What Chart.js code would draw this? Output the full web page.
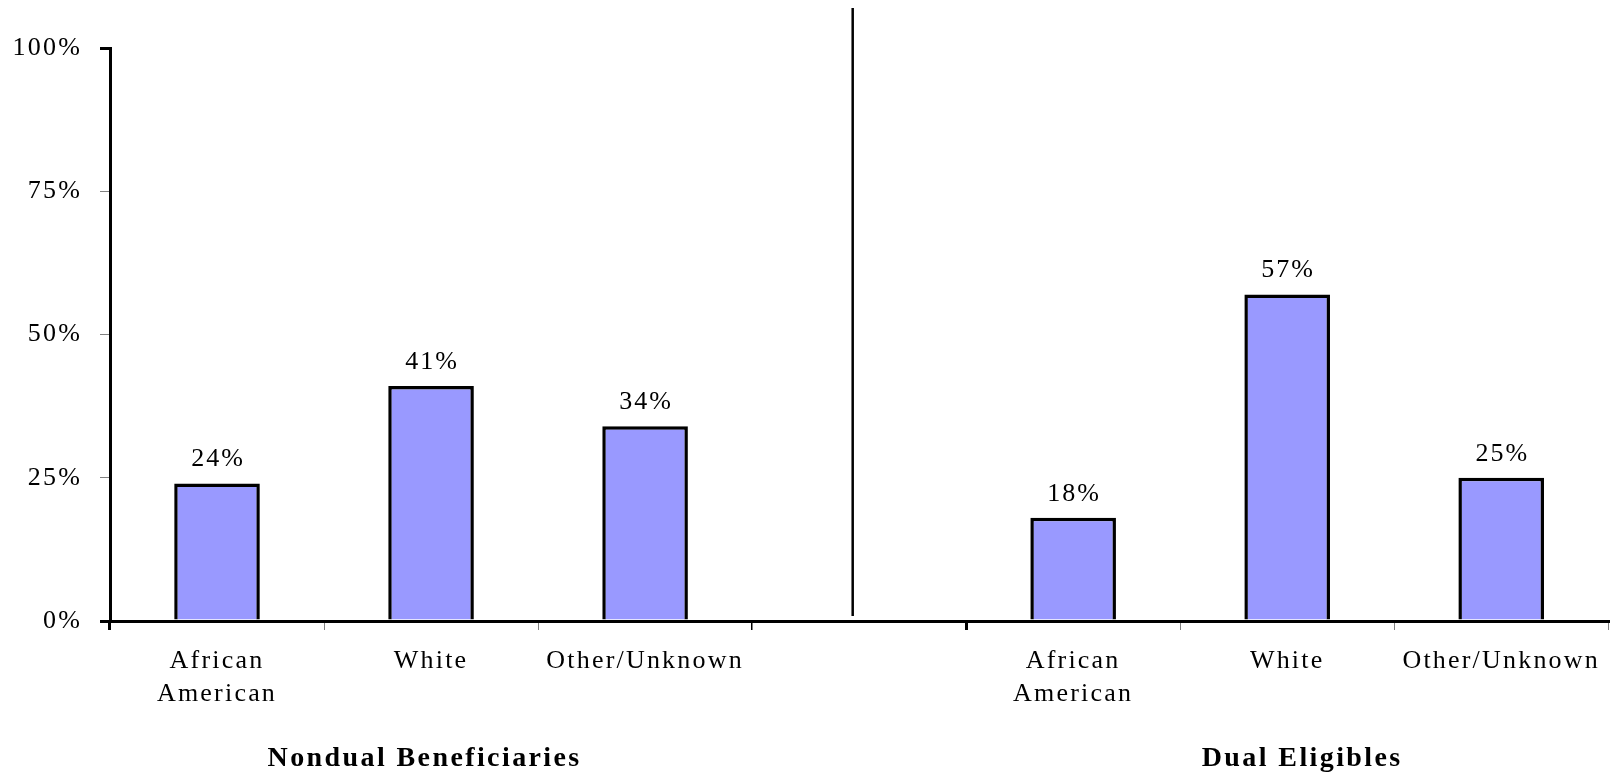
<!DOCTYPE html>
<html><head><meta charset="utf-8">
<script src="https://cdn.jsdelivr.net/npm/chart.js@4/dist/chart.umd.min.js"></script>
<style>html,body{margin:0;padding:0;background:#fff}canvas{display:block}</style>
</head><body>
<canvas id="c" width="1615" height="773"></canvas>
<script>
const categories = [['African','American'], 'White', 'Other/Unknown', '', ['African','American'], 'White', 'Other/Unknown'];
const values = [24, 41, 34, null, 18, 57, 25];
const yTicks = [0, 25, 50, 75, 100];
const groupTitles = ['Nondual Beneficiaries', 'Dual Eligibles'];
const groupCenters = [0.97, 5.07];
const dividerAt = 2.97;
const dividerTop = 107;
const FONT = "'Liberation Serif','Times New Roman',serif";
const BAR = '#9999FF';

const spacingPlugin = {
  id: 'spacing',
  beforeUpdate(chart) { chart.ctx.letterSpacing = '2.2px'; },
  beforeDraw(chart) { chart.ctx.letterSpacing = '2.2px'; }
};

const valueLabels = {
  id: 'valueLabels',
  afterDatasetsDraw(chart) {
    const ctx = chart.ctx;
    const meta = chart.getDatasetMeta(0);
    ctx.save();
    ctx.font = '26px ' + FONT;
    ctx.letterSpacing = '2px';
    ctx.fillStyle = '#000';
    ctx.textAlign = 'center';
    ctx.textBaseline = 'alphabetic';
    meta.data.forEach((bar, i) => {
      const v = values[i];
      if (v === null || v === undefined) return;
      ctx.fillText(v + '%', bar.x + 1, bar.y - 17);
    });
    ctx.restore();
  }
};

const decor = {
  id: 'decor',
  afterDraw(chart) {
    const ctx = chart.ctx;
    const xs = chart.scales.x, ys = chart.scales.y;
    ctx.save();
    ctx.strokeStyle = '#000';
    ctx.lineWidth = 2.5;
    const dx = xs.getPixelForValue(dividerAt);
    ctx.beginPath();
    ctx.moveTo(dx, ys.getPixelForValue(dividerTop));
    ctx.lineTo(dx, ys.getPixelForValue(0) - 5);
    ctx.stroke();
    ctx.font = 'bold 28px ' + FONT;
    ctx.letterSpacing = '2.4px';
    ctx.fillStyle = '#000';
    ctx.textAlign = 'center';
    ctx.textBaseline = 'alphabetic';
    groupTitles.forEach((t, i) => {
      ctx.fillText(t, xs.getPixelForValue(groupCenters[i]), chart.chartArea.bottom + 145);
    });
    ctx.restore();
  }
};

new Chart(document.getElementById('c'), {
  type: 'bar',
  data: {
    labels: categories,
    datasets: [{
      data: values,
      backgroundColor: BAR,
      borderColor: '#000',
      borderWidth: 3.5,
      barPercentage: 0.4,
      categoryPercentage: 1.0
    }]
  },
  options: {
    responsive: false,
    animation: false,
    devicePixelRatio: 1,
    layout: { padding: { top: 48, right: 0, bottom: 0, left: 0 } },
    plugins: { legend: { display: false }, tooltip: { enabled: false } },
    scales: {
      x: {
        offset: true,
        afterFit(scale) { scale.height = 152; },
        grid: {
          offset: true,
          drawOnChartArea: false,
          drawTicks: true,
          tickLength: 9,
          lineWidth: c => (c.index === 0 || c.index === 4) ? 3 : (c.index === 3 ? 1.5 : 1),
          color: c => (c.index === 0 || c.index === 3 || c.index === 4) ? '#000' : '#808080'
        },
        border: { display: true, color: '#000', width: 3 },
        ticks: {
          color: '#000',
          font: { family: FONT, size: 26, lineHeight: 1.25 },
          padding: 15,
          maxRotation: 0,
          autoSkip: false
        }
      },
      y: {
        min: 0, max: 100,
        afterFit(scale) { scale.width = 110; },
        afterBuildTicks(scale) { scale.ticks = yTicks.map(v => ({ value: v })); },
        grid: {
          drawOnChartArea: false,
          drawTicks: true,
          tickLength: 10,
          lineWidth: c => (c.tick && (c.tick.value === 0 || c.tick.value === 100)) ? 3 : 1,
          color: c => (c.tick && (c.tick.value === 0 || c.tick.value === 100)) ? '#000' : '#808080'
        },
        border: { display: true, color: '#000', width: 3 },
        ticks: {
          color: '#000',
          font: { family: FONT, size: 26 },
          padding: 18,
          callback: v => v + '%'
        }
      }
    }
  },
  plugins: [spacingPlugin, valueLabels, decor]
});
</script>
</body></html>
